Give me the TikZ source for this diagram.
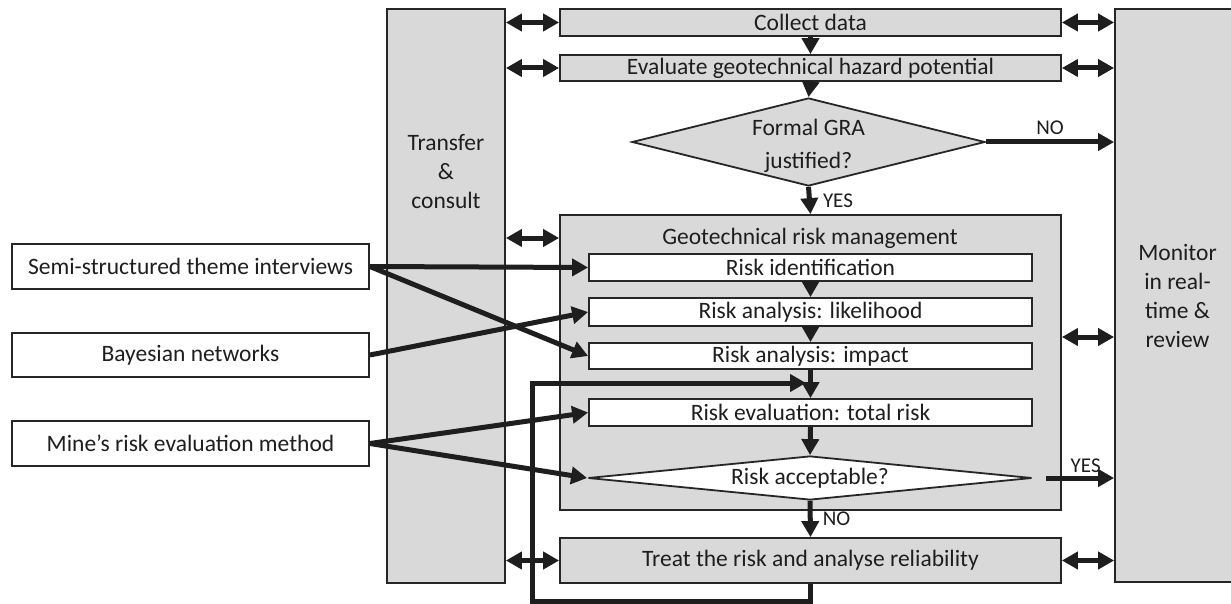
\documentclass[tikz,border=0pt]{standalone}
\usepackage{fontspec}
\setmainfont{Carlito}
\usetikzlibrary{arrows.meta,shapes.geometric}
\definecolor{boxgray}{RGB}{217,217,218}
\definecolor{edge}{RGB}{38,38,38}
\definecolor{ink}{RGB}{30,30,30}
\begin{document}
\begin{tikzpicture}[x=1pt,y=-1pt,
  txt/.style={font=\fontsize{23.5}{29}\selectfont, text=ink, align=center},
  graybox/.style={draw=edge, line width=1.8pt, fill=boxgray, inner sep=0pt, txt},
  whitebox/.style={graybox, fill=white},
  dia/.style={diamond, draw=edge, line width=1.8pt, inner sep=0pt, aspect=10, txt},
  arr/.style={line width=5pt, draw=ink, -{Triangle[length=16pt,width=17pt]}},
  darr/.style={line width=5pt, draw=ink, {Triangle[length=16pt,width=17pt]}-{Triangle[length=16pt,width=17pt]}},
  lbl/.style={font=\fontsize{21}{24}\selectfont, text=ink, inner sep=0pt}
]
\useasboundingbox (0,0) rectangle (1231,604);
\clip (0,0) rectangle (1231,604);
\fill[white] (0,0) rectangle (1231,604);

% side columns
\node[graybox, minimum width=118pt, minimum height=574pt] (transfer) at (446,296) {};
\node[txt] (transfertxt) at (446,172) {Transfer\\\&\\consult};
\node[graybox, minimum width=125pt, minimum height=573pt] (monitor) at (1177.5,295.5) {Monitor\\in real-\\time \&\\review};

% top flow
\node[graybox, minimum width=501pt, minimum height=27pt] (collect) at (810.5,22.5) {Collect data};
\node[graybox, minimum width=501pt, minimum height=26pt] (evaluate) at (810.5,68) {Evaluate geotechnical hazard potential};
\node[dia, fill=boxgray, minimum width=353pt, minimum height=88pt] (gra) at (808.5,142) {};
\node[txt, font=\fontsize{23.5}{33}\selectfont] (gratxt) at (808.5,146) {Formal GRA\\justified?};

% risk management block
\node[graybox, minimum width=501pt, minimum height=295pt] (grm) at (810.5,362.5) {};
\node[txt] (grmtxt) at (810,238) {Geotechnical risk management};
\node[whitebox, minimum width=443pt, minimum height=27pt] (ident) at (810.5,267.5) {Risk identification};
\node[whitebox, minimum width=443pt, minimum height=28pt] (likely) at (810.5,312) {Risk analysis: likelihood};
\node[whitebox, minimum width=443pt, minimum height=26pt] (impact) at (810.5,356) {Risk analysis: impact};
\node[whitebox, minimum width=443pt, minimum height=27pt] (riskeval) at (810.5,412.5) {Risk evaluation: total risk};
\node[dia, fill=white, minimum width=444pt, minimum height=44pt] (accept) at (810,478) {Risk acceptable?};
\node[graybox, minimum width=501pt, minimum height=45pt] (treat) at (810.5,560.5) {Treat the risk and analyse reliability};

% method boxes
\node[whitebox, minimum width=357pt, minimum height=45pt] (semi) at (190.5,266.5) {Semi-structured theme interviews};
\node[whitebox, minimum width=357pt, minimum height=44pt] (bayes) at (190.5,355) {Bayesian networks};
\node[whitebox, minimum width=357pt, minimum height=45pt] (mine) at (190.5,443.5) {Mine’s risk evaluation method};

% main flow
\draw[arr] (collect.south) -- (evaluate.north);
\draw[arr] (evaluate.south) -- (gra.north);
\draw[arr] (gra.south) -- node[lbl, anchor=west, xshift=11pt] {YES} (grm.north);
\draw[arr] (gra.east) -- node[lbl, above=5pt] {NO} (gra.east -| monitor.west);
\draw[arr] (ident.south) -- (likely.north);
\draw[arr] (likely.south) -- (impact.north);
\draw[arr] (impact.south) -- (riskeval.north);
\draw[arr] (riskeval.south) -- (accept.north);
\draw[arr] (accept.south) -- node[lbl, anchor=west, xshift=10pt] {NO} (treat.north);
\draw[arr, shorten <=13pt] (accept.east) -- node[lbl, pos=0.65, above=3pt] {YES} (accept.east -| monitor.west);

% exchanges with side columns
\coordinate (grmr) at (1061,337);
\draw[darr] (transfer.east |- collect.west) -- (collect.west);
\draw[darr] (collect.east) -- (collect.east -| monitor.west);
\draw[darr] (transfer.east |- evaluate.west) -- (evaluate.west);
\draw[darr] (evaluate.east) -- (evaluate.east -| monitor.west);
\draw[darr] (transfer.east |- grmtxt) -- (grm.west |- grmtxt);
\draw[darr] (grm.east |- grmr) -- (grmr -| monitor.west);
\draw[darr] (transfer.east |- treat.west) -- (treat.west);
\draw[darr] (treat.east) -- (treat.east -| monitor.west);

% methods
\draw[arr] (semi.east) -- (ident.west);
\draw[arr] (semi.east) -- (impact.west);
\draw[arr] (bayes.east) -- (likely.west);
\draw[arr] (mine.east) -- (riskeval.west);
\draw[arr] (mine.east) -- (accept.west);

% feedback loop
\coordinate (fbA) at (532,601);
\coordinate (fbB) at (532,383);
\coordinate (fbC) at (806,383);
\draw[arr] (treat.south) |- (fbA) -- (fbB) -- (fbC);
\end{tikzpicture}
\end{document}
